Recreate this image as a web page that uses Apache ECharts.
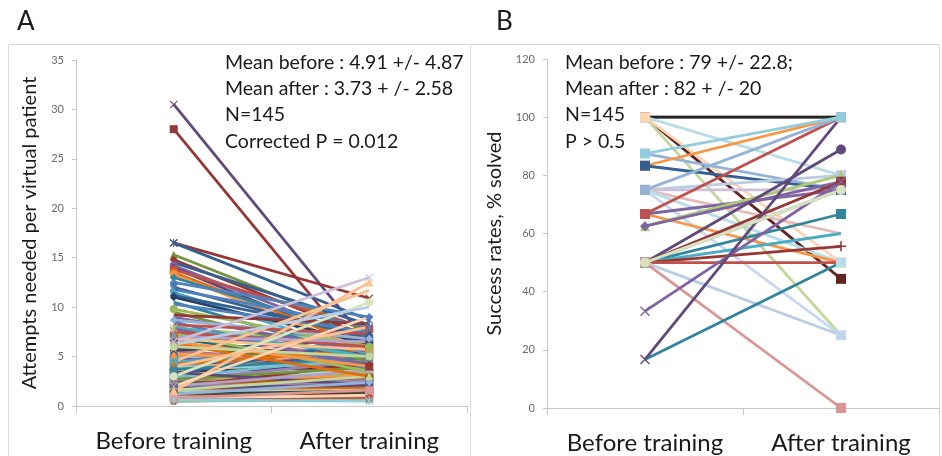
<!DOCTYPE html>
<html><head><meta charset="utf-8">
<script src="https://cdn.jsdelivr.net/npm/echarts@6/dist/echarts.min.js"></script>
<style>html,body{margin:0;padding:0;background:#fff}#c{width:942px;height:456px}</style>
</head><body><div id="c"></div>
<script>
// ---------- DATA ----------
const categories = ['Before training', 'After training'];

// Panel A: attempts needed per virtual patient (one line per student)
const beforeA = [30.5,28,16.5,16.5,15.3,14.8,14.5,14.2,14,13.8,13.5,13.3,13,12.5,12,11.8,11.5,11.2,11,10.5,
  10.3,9.8,9.5,9.2,9,8.7,8.5,8.2,8,7.8,7.5,7.3,7,6.8,6.5,6.3,6,1.5,4.5,6.5,
  3,2,6.2,4,5.8,5.5,5.3,5,5,4.8,4.7,4.5,4.5,4.3,4.2,4.1,4,4,3.9,3.8,
  3.8,3.7,3.6,3.5,3.5,3.4,3.3,3.3,3.2,3.1,3,3,2.9,2.8,2.8,2.7,2.6,2.5,2.5,2.4,
  2.4,2.3,2.3,2.2,2.2,2.1,2.1,2,2,1.9,1.9,1.8,1.8,1.7,1.7,1.6,1.6,1.5,1.5,1.4,
  1.4,1.3,1.3,1.2,1.2,1.1,1.1,1,1,1,0.9,0.9,0.8,0.8,0.7,0.7,0.6,0.5,0.5,4.6,
  4.4,5.2,5.6,5.9,6.1,6.6,6.9,7.1,7.2,7.6,7.9,2.6,2.9,3.6,3.2,1.9,2.7,3.4,3.7,4.2,
  1.2,0.8,1.6,2,0.6];
const afterA = [6.2,4,10.9,8.7,7.5,7,8.2,6.5,5.8,7.8,6,5.5,7,9,6.8,8,5.2,7.2,6.3,4.8,
  7.5,6,4.5,8.3,5.5,6.8,3.8,7.3,5,4.2,6,3.5,6.5,5.7,4,3,5,12.5,11.7,13,
  10.5,9,10,8,2.8,4.5,3.3,6,2.5,3.8,5.2,4.2,3,4.8,3.5,2.7,4.5,3.2,3.9,3,
  4.4,2.4,3.6,3.8,2.9,4.1,2.5,3.4,3.7,2.8,3.2,2.2,3.5,2.2,3,2.6,3.3,2.8,2,3.1,
  2.4,2,2.7,1.8,2.5,2.9,1.7,2.3,1.9,2.6,1.6,1.5,2.1,1.8,1.4,2.2,1.3,1.8,1.5,1.2,
  1.6,1.2,1.4,1.1,1.5,1,1.3,1.2,0.9,1.1,1,0.8,1,0.9,0.8,1.1,0.7,0.8,0.6,5.5,
  6.2,4.8,6.8,5.3,4.2,7.7,3.9,5.6,7.1,4.6,6.4,4.6,5,5.9,6.6,4.3,3.9,2.1,4.9,5.7,
  2.4,1.6,3,3.6,0.5];

// Panel B: success rates, % solved
const beforeB = [100,100,100,100,100,100,87.5,83.3,83.3,75,75,75,75,75,66.7,66.7,66.7,62.5,
  62.5,50,50,50,50,50,50,50,50,50,33.3,16.7,16.7,75,87.5,50];
const afterB  = [100,100,80,44.4,25,50,75,100,75,80,75,60,50,25,100,50,75,80,
  77.8,88.9,77.8,75,66.7,60,55.6,50,25,0,77.8,100,50,100,100,75];

const yTicksA = {min: 0, max: 35, step: 5};
const yTicksB = {min: 0, max: 120, step: 20};

// ---------- STYLES ----------
const FONT = 'Lato';
const excelPalette = ['#4F81BD','#C0504D','#9BBB59','#8064A2','#4BACC6','#F79646',
  '#2C4D75','#772C2A','#5F7530','#4D3B62','#276A7C','#B65708',
  '#729ACA','#CD7371','#AFC97A','#9983B5','#6FBDD1','#F9AB6B',
  '#376092','#953735','#76923C','#604A7B','#31859C','#E46C0A',
  '#95B3D7','#D99694','#C3D69B','#B3A2C7','#93CDDD','#FAC090',
  '#254061','#632523','#4F6228','#403152','#215968','#984807',
  '#B9CDE5','#E6B9B8','#D7E4BD','#CCC1DA','#B7DEE8','#FCD5B5'];
const X = 'path://M0,1L1,0L5,4L9,0L10,1L6,5L10,9L9,10L5,6L1,10L0,9L4,5Z';
const PLUS = 'path://M4.2,0H5.8V4.2H10V5.8H5.8V10H4.2V5.8H0V4.2H4.2Z';
const STAR = 'path://M0,1L1,0L5,4L9,0L10,1L6,5L10,9L9,10L5,6L1,10L0,9L4,5ZM4.3,0H5.7V10H4.3Z';
const markers = ['diamond','rect','triangle',X,STAR,'circle',PLUS];

// explicit colours / markers for the first (prominent) lines of panel A
const colorsA = ['#604A7B','#953735','#953735','#376092','#76923C','#953735','#376092','#8064A2','#604A7B','#C0504D',
  '#E46C0A','#F79646','#31859C','#4F81BD','#376092','#4F81BD','#4BACC6','#376092','#254061','#31859C',
  '#4F81BD','#9BBB59','#76923C','#953735','#8064A2','#95B3D7','#4F81BD','#C0504D','#4BACC6','#8064A2',
  '#C0504D','#9BBB59','#B3A2C7','#FAC090','#F79646','#E46C0A','#C3D69B','#FAC090','#FAC090','#CCC1DA',
  '#D7E4BD','#FCD5B5','#B9CDE5','#FAC090'];
const markersA = [X,'rect',X,STAR,'triangle','diamond','none','circle','diamond','rect',
  'circle','circle','diamond','diamond',STAR,STAR,'diamond','diamond','diamond','none',
  'none','circle','none','none','none','diamond','none','none','none','none',
  'none','none','none','none','none','none','circle','triangle','none',X,
  'circle','none','none','none'];

const colorsB = ['#7F7F7F','#262626','#B7DEE8','#632523','#C3D69B','#FCD5B5','#95B3D7','#F79646','#376092',
  '#B9CDE5','#CCC1DA','#E6B9B8','#B7DEE8','#C6D9F1','#C0504D','#F79646','#8064A2','#AFC97A',
  '#8064A2','#604A7B','#953735','#8064A2','#31859C','#4BACC6','#953735','#C0504D','#B9CDE5','#D99694',
  '#8064A2','#604A7B','#31859C','#95B3D7','#93CDDD','#D7E4BD'];
const markersB = ['none','none','rect','rect','none','rect','none','rect','rect',
  'rect','none','none','rect','rect','rect','none','none','triangle',
  'diamond','circle','rect','none','rect','none',PLUS,'none',X,'rect',
  X,X,'none','rect','rect','circle'];

function lineSeries(ax, b, a, c, sym, size){
  return {type:'line', xAxisIndex:ax, yAxisIndex:ax, data:[b, a],
    symbol: sym, symbolSize:size, silent:true,
    lineStyle:{width:2.8, color:c}, itemStyle:{color:c}};
}

const series = [];
const nTop = colorsA.length;
const order = [];
for (let i = nTop; i < beforeA.length; i++) order.push(i);
for (let i = 0; i < 37; i++) order.push(i);
for (let i = 37; i < nTop; i++) order.push(i);
order.forEach(i => {
  let c, s;
  if (i < nTop) { c = colorsA[i]; s = markersA[i]; }
  else { c = excelPalette[(i - nTop + 12) % excelPalette.length]; s = markers[i % markers.length]; }
  series.push(lineSeries(0, beforeA[i], afterA[i], c, s, 8));
});
beforeB.forEach((b, i) => series.push(lineSeries(1, b, afterB[i], colorsB[i], markersB[i], 10)));

function xAx(g){
  return {gridIndex:g, type:'category', data:categories, boundaryGap:true,
    axisLine:{lineStyle:{color:'#C8C8C8', width:1}},
    axisTick:{show:true, length:7, lineStyle:{color:'#C8C8C8'}},
    axisLabel:{fontSize:24, color:'#1a1a1a', margin:23, fontFamily:FONT, interval:0, hideOverlap:false}};
}
function yAx(g, t, name, gap){
  return {gridIndex:g, type:'value', min:t.min, max:t.max, interval:t.step,
    axisLine:{show:true, lineStyle:{color:'#C8C8C8'}},
    axisTick:{show:true, length:4, lineStyle:{color:'#C8C8C8'}},
    splitLine:{show:false},
    axisLabel:{fontSize:11, color:'#6a6a6a', margin:12, fontFamily:FONT},
    name:name, nameLocation:'middle', nameGap:gap,
    nameTextStyle:{fontSize:20, color:'#1a1a1a', fontFamily:FONT}};
}

const annA = ['Mean before : 4.91 +/- 4.87','Mean after : 3.73 + /- 2.58','N=145','Corrected P = 0.012'];
const annB = ['Mean before : 79 +/- 22.8;','Mean after : 82 + /- 20','N=145','P > 0.5'];
const lineY = [63, 89, 115, 142];

const graphic = [
  {type:'rect', shape:{x:8.5, y:44.5, width:462, height:440}, style:{fill:null, stroke:'#D9D9D9', lineWidth:1}},
  {type:'rect', shape:{x:470.5, y:44.5, width:469, height:440}, style:{fill:null, stroke:'#D9D9D9', lineWidth:1}},
  {type:'text', x:17, y:22, style:{text:'A', fontSize:26, fill:'#1a1a1a', fontFamily:FONT, textVerticalAlign:'middle'}},
  {type:'text', x:496, y:22, style:{text:'B', fontSize:26, fill:'#1a1a1a', fontFamily:FONT, textVerticalAlign:'middle'}}
];
annA.forEach((s,i)=>graphic.push({type:'text', x:225, y:lineY[i], z:100, style:{text:s, fontSize:19.5, fill:'#1a1a1a', fontFamily:FONT, textVerticalAlign:'middle'}}));
annB.forEach((s,i)=>graphic.push({type:'text', x:565, y:lineY[i], z:100, style:{text:s, fontSize:19.5, fill:'#1a1a1a', fontFamily:FONT, textVerticalAlign:'middle'}}));

const chart = echarts.init(document.getElementById('c'), null, {renderer:'canvas'});
chart.setOption({
  animation:false,
  backgroundColor:'#fff',
  grid:[{left:76, top:60, width:391, height:346},
        {left:547, top:59, width:392, height:349}],
  xAxis:[xAx(0), xAx(1)],
  yAxis:[yAx(0, yTicksA, 'Attempts needed per virtual patient', 36),
         yAx(1, yTicksB, 'Success rates, % solved', 42)],
  series: series,
  graphic: graphic
});
</script>
</body></html>
